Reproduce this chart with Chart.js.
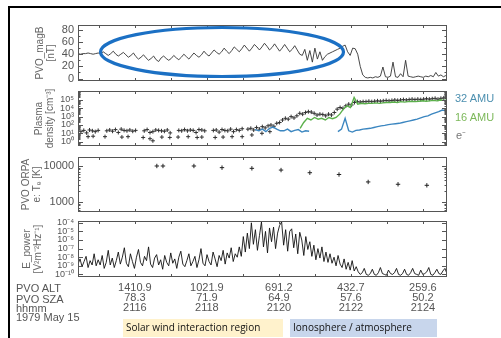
<!DOCTYPE html>
<html>
<head>
<meta charset="utf-8">
<script src="https://cdn.jsdelivr.net/npm/chart.js@4.4.0/dist/chart.umd.min.js"></script>
<style>
body { margin: 0; background: #fff; }
#wrap { position: relative; width: 501px; height: 338px; overflow: hidden; font-family: "Liberation Sans", Arial, sans-serif; }
#wrap canvas { position: absolute; left: 0; top: 0; }
.line { position: absolute; background: #000; }
.txt { position: absolute; color: #555; font-size: 11px; line-height: 10px; white-space: nowrap; }
.box { position: absolute; top: 319px; height: 18px; line-height: 17px; font-family: "Open Sans", sans-serif; font-size: 10px; color: #111; padding-left: 3px; box-sizing: border-box; white-space: nowrap; }
</style>
</head>
<body>
<div id="wrap">
  <div class="line" style="left:8px;top:6px;width:493px;height:2px"></div>
  <div class="line" style="left:8px;top:6px;width:2px;height:332px"></div>
  <canvas id="p1" width="501" height="338"></canvas>
  <canvas id="p2" width="501" height="338"></canvas>
  <canvas id="p3" width="501" height="338"></canvas>
  <canvas id="p4" width="501" height="338"></canvas>
  <svg width="501" height="338" style="position:absolute;left:0;top:0">
    <ellipse cx="222" cy="52" rx="121.5" ry="24.5" fill="none" stroke="#1b70c4" stroke-width="3.2"/>
  </svg>
  <div class="txt" style="left:455px;top:93px;color:#4d90b0">32 AMU</div>
  <div class="txt" style="left:455px;top:112px;color:#7cb85a">16 AMU</div>
  <div class="txt" style="left:456px;top:130px;color:#777">e⁻</div>
  <div class="txt" style="left:16px;top:283px">PVO ALT</div>
  <div class="txt" style="left:16px;top:294px">PVO SZA</div>
  <div class="txt" style="left:16px;top:303px">hhmm</div>
  <div class="txt" style="left:16px;top:312px">1979 May 15</div>
  <div class="box" style="left:123px;width:160px;background:#fff2cc">Solar wind interaction region</div>
  <div class="box" style="left:290px;width:147px;background:#c8d6ec">Ionosphere / atmosphere</div>
</div>
<script>
// time axis: minutes after 21:00 UT
var xMin = 14.42, xMax = 24.67;
var minuteTicks = [15, 16, 17, 18, 19, 20, 21, 22, 23, 24];
var labelMinutes = [16, 18, 20, 22, 24];
var altLabels = ['1410.9', '1021.9', '691.2', '432.7', '259.6'];
var szaLabels = ['78.3', '71.9', '64.9', '57.6', '50.2'];
var hhmmLabels = ['2116', '2118', '2120', '2122', '2124'];

// |B| in nT, one sample every magStep minutes
var magStart = 14.42, magStep = 0.07;
var magB = [
  41,40,41,41,42,41,40,41,42,41,
  44,41,38,41,45,40,37,40,43,39,35,38,42,36,32,35,39,34,30,33,37,31,28,
  34,37,33,30,33,38,34,31,35,40,36,32,37,42,38,35,39,45,40,37,
  42,47,43,40,44,50,45,41,46,52,48,44,49,55,50,45,50,56,52,47,
  52,58,53,47,51,57,51,45,50,56,50,44,48,54,47,40,38,48,30,46,27,50,32,44,
  30,36,40,42,44,46,48,50,53,55,44,38,50,49,40,20,6,2,
  1,2,1,3,2,4,19,3,2,4,27,3,2,8,3,30,4,3,2,3,4,3,2,4,3,5,3,10,4,6,3,5
];

// plasma density, log10 of cm^-3
var densStart = 14.42, densStep = 0.08;
var densE = [
  1.3,1.2,1.35,1.05,1.4,1.3,1.2,1.35,null,null,
  1.3,1.4,1.25,1.45,1.1,1.5,1.35,1.3,1.4,1.25,
  1.35,null,null,1.3,1.45,1.1,1.2,1.4,1.35,1.3,
  1.25,1.4,1.05,null,null,1.35,1.3,1.45,1.3,1.4,
  1.35,1.1,1.45,1.4,1.3,null,null,1.35,1.4,1.15,
  1.45,1.35,1.3,1.5,1.2,1.45,1.35,1.55,null,1.5,
  1.6,1.4,1.7,1.5,1.8,1.65,1.9,2.0,1.85,2.2,
  2.3,2.6,2.8,2.7,3.0,2.85,3.1,3.4,3.3,3.5,
  3.6,3.55,3.4,3.2,3.3,3.25,3.1,3.3,3.2,3.5,
  3.9,4.1,4.0,4.3,4.5,4.4,4.7,4.8,4.75,4.8,
  4.8,4.85,4.8,4.85,4.9,4.85,4.9,4.95,4.9,4.95,
  5.0,4.95,5.0,5.05,5.0,5.05,5.1,5.05,5.1,5.05,
  5.1,5.15,5.1,5.15,5.2,5.1,5.2,5.25,5.2
];
var eLowTime = [14.70,14.84,15.17,15.64,15.81,16.23,16.42,16.50,16.75,16.97,17.20,17.48,17.73,17.86,18.23,18.45,18.70,18.98,19.25,19.53,19.75];
var eLowDens = [0.6,0.65,0.6,0.55,0.6,0.5,0.35,0.1,0.55,0.5,0.55,0.6,0.5,0.55,0.5,0.55,0.6,0.6,0.8,1.0,1.2];
// 32 AMU
var o2Start = 19.34, o2Step = 0.1;
var densO2 = [
  1.45,1.3,1.5,1.2,1.6,1.75,1.5,1.3,1.3,1.5,1.2,1.35,1.45,1.15,1.3,1.25,
  null,null,null,null,null,null,null,
  1.2,1.5,2.8,1.3,1.15,1.35,1.4,1.5,1.55,1.6,1.7,1.8,1.9,1.95,2.05,
  2.1,2.15,2.2,2.3,2.4,2.5,2.6,2.7,2.85,3.0,3.1,3.3,3.45,3.6,3.8,3.7
];
// 16 AMU
var oStart = 20.59, oStep = 0.1;
var densO = [
  1.6,2.3,2.8,2.6,2.9,2.7,2.8,2.6,2.9,2.75,2.9,3.3,3.9,4.3,4.1,5.3,4.5,4.6,4.55,4.6,
  4.6,4.65,4.6,4.65,4.7,4.7,4.75,4.7,4.8,4.75,4.8,4.85,4.8,4.85,4.9,4.85,4.9,4.95,4.9,5.0,4.95,5.0
];

// ORPA electron temperature [K]
var teTime = [16.61, 16.78, 17.64, 18.42, 19.25, 20.06, 20.86, 21.67, 22.48, 23.31, 24.11];
var teK = [10000, 10000, 10000, 9000, 8600, 7700, 6500, 5800, 3600, 3100, 2900];

// E-field power, log10 of V^2 m^-2 Hz^-1
var ePowStart = 14.42, ePowStep = 0.056;
var ePowExp = [
  -8.8,-8.2,-9.1,-8.5,-7.9,-9.2,-8.4,-8.9,-7.6,-9.0,
  -8.3,-8.9,-7.8,-9.3,-8.6,-7.2,-8.9,-8.1,-9.2,-8.4,
  -7.4,-8.8,-8.0,-6.9,-8.7,-9.1,-7.6,-8.5,-9.3,-8.0,
  -7.1,-8.6,-9.0,-7.9,-8.4,-6.8,-8.8,-9.2,-8.1,-7.7,
  -8.9,-8.3,-9.4,-7.8,-8.6,-9.0,-7.5,-8.7,-8.2,-9.3,
  -8.0,-7.3,-8.8,-9.1,-8.4,-7.6,-9.0,-8.5,-7.9,-9.2,
  -8.3,-7.0,-8.7,-9.0,-7.7,-8.5,-8.9,-7.4,-8.2,-9.1,
  -7.8,-8.4,-7.2,-8.8,-7.5,-8.1,-6.9,-8.5,-7.6,-8.0,
  -6.8,-7.9,-5.6,-7.4,-5.2,-7.0,
  -4.0,-6.5,-4.8,-7.2,-5.5,-3.9,-6.8,-5.0,-7.5,-4.6,
  -6.2,-4.5,-7.0,-5.2,-4.3,-3.9,-6.6,-4.8,-7.3,-5.0,
  -4.7,-6.9,-5.3,-7.6,-5.1,-6.0,-7.8,-5.6,-7.1,-6.2,
  -7.9,-6.6,-8.3,-7.0,-8.1,-6.8,-8.5,-7.4,-8.6,
  -7.6,-8.7,-8.0,-9.0,-7.8,-8.8,-9.2,-8.2,-9.4,-8.6,-9.5,-8.4,-9.6,-9.1,-9.7,
  -10.0,-9.8,-9.3,-10.0,-10.1,-9.9,-9.4,-10.0,-10.1,-9.8,-9.2,-9.9,-10.0,-10.1,-9.5,
  -9.9,-10.0,-9.8,-9.3,-10.0,-10.1,-9.9,-9.4,-10.0,-10.1,-9.8,-9.3,-9.9,-10.0,-10.1,
  -9.5,-10.0,-9.9,-9.7,-9.2,-10.0,-10.1,-9.8,-9.4,-9.9,-10.0,-9.6,-9.3,-9.9
];

var p2Decades = [0, 1, 2, 3, 4, 5];
var p3Decades = [3, 4];
var p4Decades = [-10, -9, -8, -7, -6, -5, -4];

Chart.defaults.font.family = "'Liberation Sans', Arial, sans-serif";
Chart.defaults.color = '#555';

function series(start, step, vals, isLog) {
  return vals.map(function (v, i) {
    return { x: start + i * step, y: v === null ? null : (isLog ? Math.pow(10, v) : v) };
  });
}
function pairs(xs, ys, isLog) {
  return xs.map(function (x, i) { return { x: x, y: isLog ? Math.pow(10, ys[i]) : ys[i] }; });
}

var sup = { '0': '⁰', '1': '¹', '2': '²', '3': '³', '4': '⁴', '5': '⁵', '6': '⁶', '7': '⁷', '8': '⁸', '9': '⁹', '-': '⁻' };
function pow10Label(v) {
  var e = String(Math.round(Math.log10(v)));
  return '10' + e.split('').map(function (c) { return sup[c]; }).join('');
}
function decadeVals(d) { return d.map(function (e) { return Math.pow(10, e); }); }
function logMinors(lo, hi) {
  var out = [];
  for (var d = Math.floor(lo); d <= Math.ceil(hi); d++) {
    for (var k = 2; k <= 9; k++) {
      var v = k * Math.pow(10, d);
      if (Math.log10(v) > lo && Math.log10(v) < hi) out.push(v);
    }
  }
  return out;
}

// inward IDL style ticks on all four sides, plus the box
var tickSets = {
  p1: { major: [0, 20, 40, 60, 80], minor: [10, 30, 50, 70] },
  p2: { major: decadeVals(p2Decades), minor: logMinors(-0.52, 6.08) },
  p3: { major: decadeVals(p3Decades), minor: logMinors(2.72, 4.25) },
  p4: { major: decadeVals(p4Decades), minor: [] }
};
var idlAxes = {
  id: 'idlAxes',
  afterDatasetsDraw: function (chart) {
    var c = chart.ctx, a = chart.chartArea, xs = chart.scales.x, ys = chart.scales.y;
    var t = tickSets[chart.canvas.id];
    c.save();
    c.strokeStyle = '#555';
    c.lineWidth = 1;
    c.beginPath();
    minuteTicks.forEach(function (m) {
      var p = Math.round(xs.getPixelForValue(m)) + 0.5;
      c.moveTo(p, a.top); c.lineTo(p, a.top + 3);
      c.moveTo(p, a.bottom); c.lineTo(p, a.bottom - 3);
    });
    function yt(v, len) {
      var p = Math.round(ys.getPixelForValue(v)) + 0.5;
      if (p < a.top || p > a.bottom) return;
      c.moveTo(a.left, p); c.lineTo(a.left + len, p);
      c.moveTo(a.right, p); c.lineTo(a.right - len, p);
    }
    t.major.forEach(function (v) { yt(v, 5); });
    t.minor.forEach(function (v) { yt(v, 2.5); });
    c.stroke();
    c.strokeRect(a.left + 0.5, a.top + 0.5, a.width - 1, a.height - 1);
    c.restore();
  }
};

function makePanel(id, padTop, padBottom, y, datasets, xExtra) {
  var x = {
    type: 'linear', min: xMin, max: xMax,
    grid: { display: false, drawTicks: false }, border: { display: false },
    ticks: { display: false },
    afterFit: function (s) { s.height = 0; }
  };
  if (xExtra) Object.assign(x, xExtra);
  y.grid = { display: false, drawTicks: false };
  y.border = { display: false };
  y.afterFit = function (s) { s.width = 78; };
  return new Chart(document.getElementById(id), {
    type: 'line',
    data: { datasets: datasets },
    options: {
      responsive: false,
      animation: false,
      layout: { padding: { top: padTop, bottom: padBottom, left: 0, right: 54 } },
      plugins: { legend: { display: false }, tooltip: { enabled: false } },
      scales: { x: x, y: y }
    },
    plugins: [idlAxes]
  });
}

function yTitle(lines, padTop) {
  return { display: true, text: lines, color: '#666', font: { size: 10, lineHeight: 1.1 }, padding: { top: padTop, bottom: 0 } };
}
function lineSet(data, color, w) {
  return { data: data, borderColor: color, borderWidth: w || 1, pointRadius: 0, tension: 0, spanGaps: false };
}
function crossSet(data, r, color) {
  return { data: data, showLine: false, pointStyle: 'cross', pointRadius: r, borderColor: color || '#333', borderWidth: 1 };
}

// panel 1: magnetic field
makePanel('p1', 25, 257, {
  type: 'linear', min: -4, max: 88,
  title: yTitle(['PVO_magB', '[nT]'], 34.5),
  ticks: { autoSkip: false, padding: 4, font: { size: 11 } },
  afterBuildTicks: function (s) { s.ticks = [0, 20, 40, 60, 80].map(function (v) { return { value: v }; }); }
}, [lineSet(series(magStart, magStep, magB, false), '#333', 0.9)]);

// panel 2: plasma density
makePanel('p2', 91, 192, {
  type: 'logarithmic', min: Math.pow(10, -0.52), max: Math.pow(10, 6.08),
  title: yTitle(['Plasma', 'density [cm⁻³]'], 33.5),
  ticks: { autoSkip: false, padding: 4, font: { size: 9 }, callback: function (v) { return pow10Label(v); } },
  afterBuildTicks: function (s) { s.ticks = decadeVals(p2Decades).map(function (v) { return { value: v }; }); }
}, [
  lineSet(series(oStart, oStep, densO, true), '#5bb04b', 1.4),
  lineSet(series(o2Start, o2Step, densO2, true), '#3b86c0', 1.4),
  crossSet(series(densStart, densStep, densE, true), 2),
  crossSet(pairs(eLowTime, eLowDens, true), 2)
]);

// panel 3: electron temperature
makePanel('p3', 157, 126, {
  type: 'logarithmic', min: Math.pow(10, 2.72), max: Math.pow(10, 4.25),
  title: yTitle(['PVO ORPA', 'e: Tₑ [K]'], 20.5),
  ticks: { autoSkip: false, padding: 4, font: { size: 11 }, callback: function (v) { return String(Math.round(v)); } },
  afterBuildTicks: function (s) { s.ticks = decadeVals(p3Decades).map(function (v) { return { value: v }; }); }
}, [crossSet(pairs(teTime, teK, false), 2.2, '#222')]);

// panel 4: E-field power, with the ALT / SZA / time table as tick labels
makePanel('p4', 221, 21, {
  type: 'logarithmic', min: Math.pow(10, -10.3), max: Math.pow(10, -3.79),
  title: yTitle(['E_power', '[V²m⁻²Hz⁻¹]'], 21.5),
  ticks: { autoSkip: false, padding: 4, font: { size: 9 }, callback: function (v) { return pow10Label(v); } },
  afterBuildTicks: function (s) { s.ticks = decadeVals(p4Decades).map(function (v) { return { value: v }; }); }
}, [lineSet(series(ePowStart, ePowStep, ePowExp, true), '#111', 0.9)], {
  ticks: {
    display: true, autoSkip: false, maxRotation: 0, padding: 6, color: '#555',
    font: { size: 11, lineHeight: 0.92 },
    callback: function (v, i) { return [altLabels[i], szaLabels[i], hhmmLabels[i]]; }
  },
  afterBuildTicks: function (s) { s.ticks = labelMinutes.map(function (m) { return { value: m }; }); },
  afterFit: function (s) { s.height = 40; }
});
</script>
</body>
</html>
